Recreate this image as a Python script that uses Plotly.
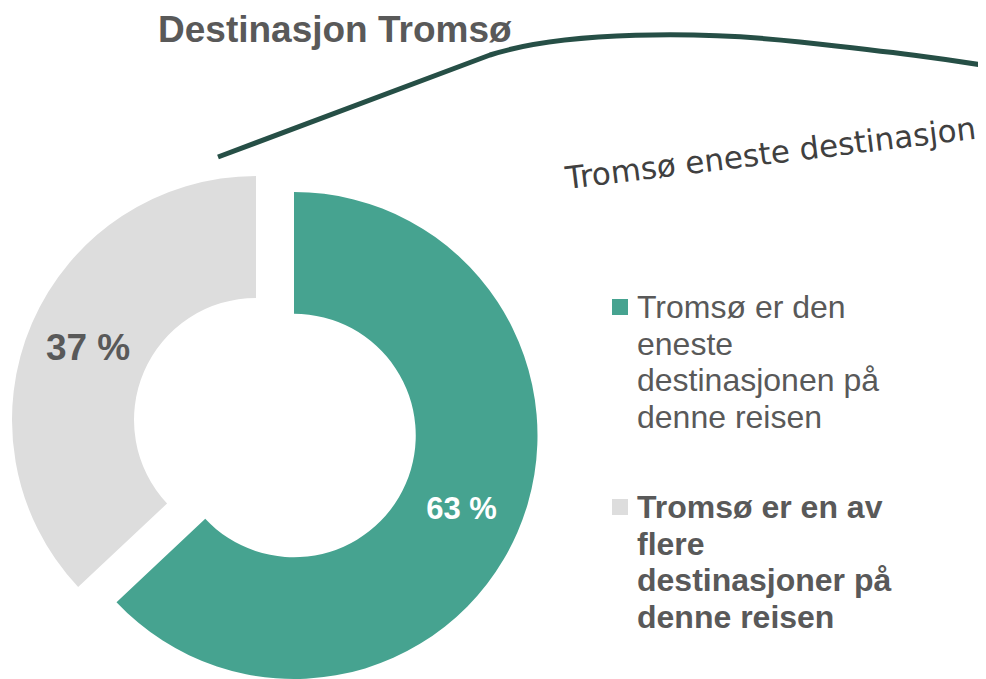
import plotly.graph_objects as go

# ---- data ----
categories = ["Tromsø er den eneste destinasjonen på denne reisen",
              "Tromsø er en av flere destinasjoner på denne reisen"]
values = [63, 37]
legend_lines = [["Tromsø er den", "eneste", "destinasjonen på", "denne reisen"],
                ["Tromsø er en av", "flere", "destinasjoner på", "denne reisen"]]
title_text = "Destinasjon Tromsø"
note_text = "Tromsø eneste destinasjon"

# ---- styles ----
W, H = 986, 679
OFF = 8  # page body margin
TEAL = "#46A390"
GRAY = "#DDDDDD"
TXT = "#595959"
LINE = "#264F46"
FONT = "Liberation Sans, Arial, sans-serif"


def px(x):
    return (x - OFF) / W


def py(y):
    return 1 - (y - OFF) / H


labels_pct = [f"{v} %" for v in values]

fig = go.Figure()

# gray slice (not exploded)
fig.add_trace(go.Pie(
    labels=categories, values=values, sort=False, direction="clockwise", rotation=0,
    hole=0.5,
    marker=dict(colors=["rgba(0,0,0,0)", GRAY], line=dict(width=0)),
    text=["", labels_pct[1]], textinfo="text", textposition="inside",
    insidetextorientation="horizontal",
    textfont=dict(family=FONT, size=37, color=TXT, weight="bold"),
    domain=dict(x=[px(12), px(500)], y=[py(664), py(176)]),
    showlegend=False, hoverinfo="label+percent",
))

# teal slice (exploded)
fig.add_trace(go.Pie(
    labels=categories, values=values, sort=False, direction="clockwise", rotation=0,
    hole=0.5,
    marker=dict(colors=[TEAL, "rgba(0,0,0,0)"], line=dict(width=0)),
    text=[labels_pct[0], ""], textinfo="text", textposition="inside",
    insidetextorientation="horizontal",
    textfont=dict(family=FONT, size=31, color="white", weight="bold"),
    domain=dict(x=[px(50.5), px(537.5)], y=[py(679), py(192)]),
    showlegend=False, hoverinfo="label+percent",
))

annotations = []
# title
annotations.append(dict(text=f"<b>{title_text}</b>", x=px(156), y=py(30), xref="paper", yref="paper",
                        xanchor="left", yanchor="middle", showarrow=False,
                        font=dict(family=FONT, size=37, color=TXT)))
# handwritten note
annotations.append(dict(text=note_text, x=px(770), y=py(153), xref="paper", yref="paper",
                        xanchor="center", yanchor="middle", showarrow=False, textangle=-7,
                        font=dict(family="DejaVu Sans", size=31, color="#404040")))

# custom legend
shapes = []
colors = [TEAL, GRAY]
starts = [307, 507]
for i, lines in enumerate(legend_lines):
    y0 = starts[i]
    shapes.append(dict(type="rect", xref="paper", yref="paper",
                       x0=px(612), x1=px(628), y0=py(y0 - 8), y1=py(y0 + 8),
                       fillcolor=colors[i], line=dict(width=0)))
    for j, ln in enumerate(lines):
        t = f"<b>{ln}</b>" if i == 1 else ln
        annotations.append(dict(text=t, x=px(635), y=py(y0 + j * 36.7), xref="paper", yref="paper",
                                xanchor="left", yanchor="middle", showarrow=False,
                                font=dict(family=FONT, size=32, color=TXT)))

# decorative curve
pts = [(218, 157), (490, 55), (565, 31), (700, 31), (800, 42), (940, 58), (994, 67)]
p = [f"{px(x):.5f},{py(y):.5f}" for x, y in pts]
path = f"M {p[0]} L {p[1]} C {p[2]} {p[3]} {p[4]} S {p[5]} {p[6]}"
shapes.append(dict(type="path", xref="paper", yref="paper", path=path,
                   line=dict(color=LINE, width=5)))

fig.update_layout(
    width=W, height=H, margin=dict(l=0, r=0, t=0, b=0),
    paper_bgcolor="white", plot_bgcolor="white",
    annotations=annotations, shapes=shapes,
)

fig.write_html("out.html")
